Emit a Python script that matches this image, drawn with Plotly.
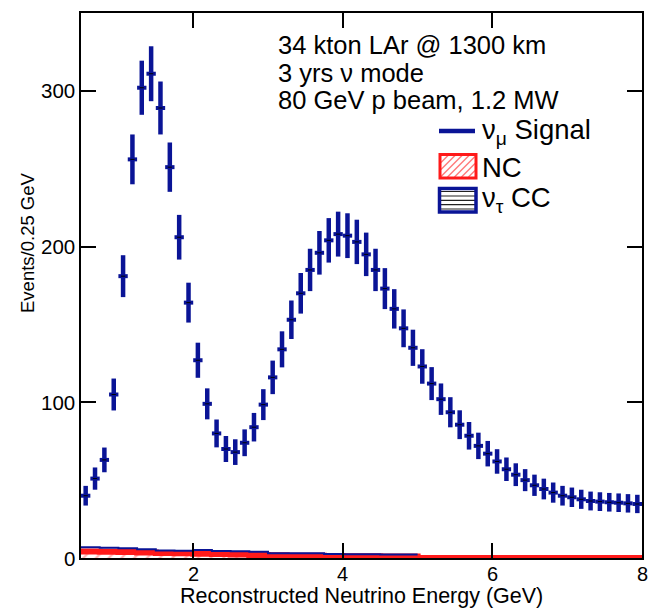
import numpy as np
import plotly.graph_objects as go

# ---------------- data ----------------
bin_width = 0.125
energy_centers = np.arange(0.5, 8.0, bin_width) + bin_width / 2  # 60 bins

signal_counts = [40, 51, 63, 105, 181, 256, 302, 311, 289, 251,
                 206, 164, 127, 99, 80, 70, 68, 74, 84, 98.5,
                 116, 134, 153, 170, 185, 196, 204, 208, 207, 203,
                 195, 185, 173, 160, 147.5, 135, 123, 112, 102, 93.6,
                 85.6, 78.5, 72, 67, 62, 57, 53.5, 50, 46.7, 44.3,
                 42, 40, 39, 37.7, 36.6, 36.2, 35.8, 35.5, 35.1, 34.7]
signal_errors = np.sqrt(signal_counts)  # Poisson errors

bkg_edges = [0.5, 0.75, 1.0, 1.25, 1.5, 1.75, 2.0, 2.25, 2.5, 2.75,
             3.0, 3.25, 3.5, 3.75, 4.0, 4.25, 4.5, 4.75, 5.0, 8.0]
nc_counts = [4.2, 4.0, 3.8, 3.5, 3.2, 3.0, 2.7, 2.5, 2.2, 1.9,
             1.7, 1.5, 1.4, 1.3, 1.2, 1.1, 1.0, 1.0, 0.0]
nutau_counts = [6.9, 6.6, 6.2, 5.6, 4.8, 4.7, 5.1, 4.5, 4.4, 4.0,
                3.1, 3.0, 3.1, 2.5, 2.4, 2.4, 2.3, 2.3]

info_lines = ["34 kton LAr @ 1300 km", "3 yrs ν mode", "80 GeV p beam, 1.2 MW"]
legend_labels = ["ν<sub>μ</sub> Signal", "NC", "ν<sub>τ</sub> CC"]
x_ticks = [2, 4, 6, 8]
y_ticks = [0, 100, 200, 300]

# ---------------- styling ----------------
BLUE = "#0a1496"
RED = "#ff1a1a"
FONT = "Liberation Sans, Arial, Helvetica, sans-serif"
W, H = 654, 613
L, R, T, B = 81, 12, 13, 55


def px(xp):
    return (xp - L) / (W - L - R)


def py(yp):
    return (H - B - yp) / (H - B - T)


fig = go.Figure()

# NC histogram (hatched)
fig.add_trace(go.Scatter(
    x=bkg_edges, y=nc_counts + [nc_counts[-1]],
    mode="lines", line=dict(color=RED, width=6, shape="hv"),
    fill="tozeroy", fillcolor="rgba(0,0,0,0)",
    fillpattern=dict(shape="/", fgcolor="#ff6a6a", bgcolor="white", size=9, solidity=0.25),
    showlegend=False, hoverinfo="skip"))

# nu_tau CC histogram outline
fig.add_trace(go.Scatter(
    x=bkg_edges[:-1], y=nutau_counts + [nutau_counts[-1]],
    mode="lines", line=dict(color=BLUE, width=2, shape="hv"),
    showlegend=False, hoverinfo="skip"))

# signal points with error bars
fig.add_trace(go.Scatter(
    x=energy_centers, y=signal_counts, mode="markers",
    marker=dict(symbol="line-ew", size=3, color="black", line=dict(color="black", width=1)),
    error_y=dict(type="data", array=signal_errors, color=BLUE, thickness=4.5, width=0),
    error_x=dict(type="constant", value=bin_width / 2, color=BLUE, thickness=4, width=0),
    showlegend=False, hoverinfo="skip"))

shapes = []
annotations = []

# info text
for txt, yc in zip(info_lines, [45, 73, 100]):
    annotations.append(dict(text=txt, xref="paper", yref="paper", x=px(276), y=py(yc),
                            xanchor="left", yanchor="middle", showarrow=False,
                            font=dict(family=FONT, size=25.5, color="black")))

# legend: signal line
shapes.append(dict(type="line", xref="paper", yref="paper", x0=px(439), x1=px(475),
                   y0=py(131), y1=py(131), line=dict(color=BLUE, width=4.5)))
# NC box with diagonal hatch
bx0, bx1, by0, by1 = 441, 475, 155.5, 177
step = 7
c = bx0 - (by1 - by0)
while c < bx1:
    h = by1 - by0
    tmin = max(0, bx0 - c)
    tmax = min(h, bx1 - c)
    if tmin < tmax:
        shapes.append(dict(type="line", xref="paper", yref="paper",
                           x0=px(c + tmin), y0=py(by1 - tmin), x1=px(c + tmax), y1=py(by1 - tmax),
                           line=dict(color="#ff7a7a", width=1.5)))
    c += step
shapes.append(dict(type="rect", xref="paper", yref="paper", x0=px(440), x1=px(476),
                   y0=py(154.5), y1=py(178), line=dict(color=RED, width=3)))
# nu_tau box with horizontal hatch
for yl in [191.5, 196, 200.3, 204.6, 209]:
    shapes.append(dict(type="line", xref="paper", yref="paper", x0=px(441), x1=px(475),
                       y0=py(yl), y1=py(yl), line=dict(color="#222222", width=1.2)))
shapes.append(dict(type="rect", xref="paper", yref="paper", x0=px(439.5), x1=px(476),
                   y0=py(188.5), y1=py(212), line=dict(color=BLUE, width=3.5)))

for txt, yc in zip(legend_labels, [131, 167, 199]):
    annotations.append(dict(text=txt, xref="paper", yref="paper", x=px(480), y=py(yc),
                            xanchor="left", yanchor="middle", showarrow=False,
                            font=dict(family=FONT, size=27.5, color="black")))

# tick labels (placed as annotations for exact positioning)
for xv in x_ticks:
    annotations.append(dict(text=str(xv), xref="x", yref="paper", x=xv, y=py(574),
                            xanchor="center", yanchor="middle", showarrow=False,
                            font=dict(family=FONT, size=20, color="black")))
for yv in y_ticks:
    annotations.append(dict(text=str(yv), xref="paper", yref="y", x=px(77), y=yv,
                            xanchor="right", yanchor="middle", showarrow=False,
                            font=dict(family=FONT, size=20.5, color="black")))

# axis titles
annotations.append(dict(text="Events/0.25 GeV", xref="paper", yref="paper", x=px(27), y=py(243),
                        xanchor="center", yanchor="middle", textangle=-90, showarrow=False,
                        font=dict(family=FONT, size=18.5, color="black")))
annotations.append(dict(text="Reconstructed Neutrino Energy (GeV)", xref="paper", yref="paper",
                        x=px(361), y=py(596), xanchor="center", yanchor="middle", showarrow=False,
                        font=dict(family=FONT, size=21.5, color="black")))

axis_common = dict(showline=True, linewidth=2, linecolor="black", mirror="ticks",
                   ticks="inside", ticklen=15, tickwidth=2, tickcolor="black",
                   showgrid=False, zeroline=False, automargin=False, showticklabels=False)

fig.update_layout(
    width=W, height=H, margin=dict(l=L, r=R, t=T, b=B, pad=0, autoexpand=False),
    paper_bgcolor="white", plot_bgcolor="white",
    xaxis=dict(range=[0.5, 8], tickvals=x_ticks, **axis_common),
    yaxis=dict(range=[0, 350], tickvals=y_ticks, **axis_common),
    shapes=shapes, annotations=annotations, showlegend=False,
)

fig.write_html("out.html", config={"displayModeBar": False},
               post_script="document.body.style.margin='0';document.body.style.overflow='hidden';")
